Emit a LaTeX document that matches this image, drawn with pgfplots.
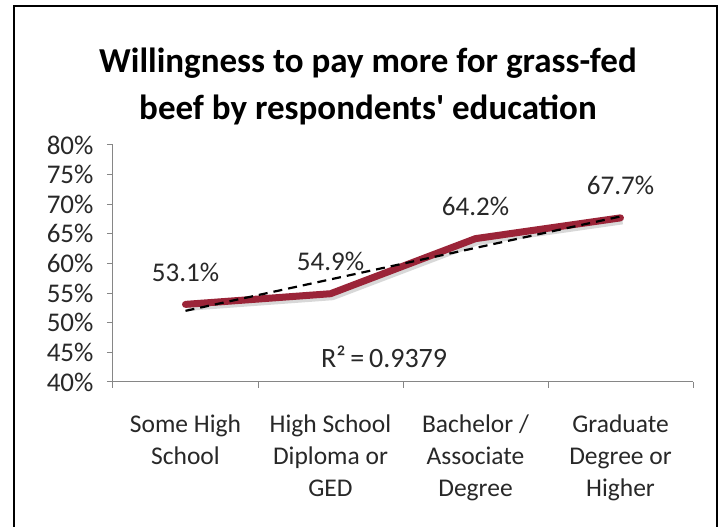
\documentclass[border=0pt]{standalone}
\usepackage{fontspec}
\setmainfont{Carlito}
\newfontfamily\titlefont{Carlito}[Ligatures=TeXOff]
\usepackage{pgfplots}
\pgfplotsset{compat=1.18}
\definecolor{lineRed}{RGB}{155,36,56}
\definecolor{txt}{RGB}{40,40,40}
\definecolor{axgray}{RGB}{134,134,134}
\begin{document}
\begin{tikzpicture}[x=1pt,y=1pt]
\useasboundingbox (0,0) rectangle (723,527);
\fill[white] (0,0) rectangle (723,527);
\draw[black, line width=2pt] (13.5,-2) -- (13.5,520.5) -- (717,520.5) -- (717,-2);
\node[font=\titlefont\fontsize{35}{47}\selectfont\bfseries, align=center, anchor=north, text=black] at (368,483)
  {Willingness to pay more for grass-fed\\beef by respondents' education};
\begin{axis}[
  at={(113pt,145pt)}, anchor=south west, scale only axis,
  width=580pt, height=237pt,
  xmin=0, xmax=4, ymin=40, ymax=80,
  ytick={40,45,...,80},
  yticklabel={\pgfmathprintnumber{\tick}\%},
  /pgf/number format/assume math mode=true,
  axis lines*=left,
  axis line style={axgray, line width=1pt, -},
  tick align=outside,
  major tick length=6pt,
  tick style={axgray, line width=1pt},
  yticklabel style={font=\fontsize{27}{30}\selectfont, text=txt, xshift=-10pt},
  xtick={0,1,2,3,4}, xticklabels={},
  extra x ticks={0.5,1.5,2.5,3.5},
  extra x tick labels={{Some High\\School},{High School\\Diploma or\\GED},{Bachelor /\\Associate\\Degree},{Graduate\\Degree or\\Higher}},
  extra x tick style={major tick length=0pt},
  xticklabel style={font=\fontsize{25.5}{32}\selectfont, text=txt, align=center, anchor=north, yshift=-29pt},
  clip=false,
]
\addplot[gray, opacity=0.3, line width=7pt, xshift=2pt, yshift=-3pt, forget plot] coordinates {(0.5,53.1) (1.5,54.9) (2.5,64.2) (3.5,67.7)};
\addplot[lineRed, line width=7pt, line join=round, line cap=round,
  nodes near coords={\pgfmathprintnumber[fixed,precision=1,fixed zerofill]{\pgfplotspointmeta}\%},
  point meta=y,
  every node near coord/.append style={font=\fontsize{27}{31}\selectfont, text=txt, anchor=center, yshift=32pt},
] coordinates {(0.5,53.1) (1.5,54.9) (2.5,64.2) (3.5,67.7)};
\addplot[black, line width=2.2pt, dash pattern=on 9pt off 6pt] coordinates {(0.5,52.01) (3.5,67.94)};
\node[font=\fontsize{28}{32}\selectfont, text=txt] at (axis cs:1.87,44.3) {R²\,=\,0.9379};
\end{axis}
\end{tikzpicture}
\end{document}
